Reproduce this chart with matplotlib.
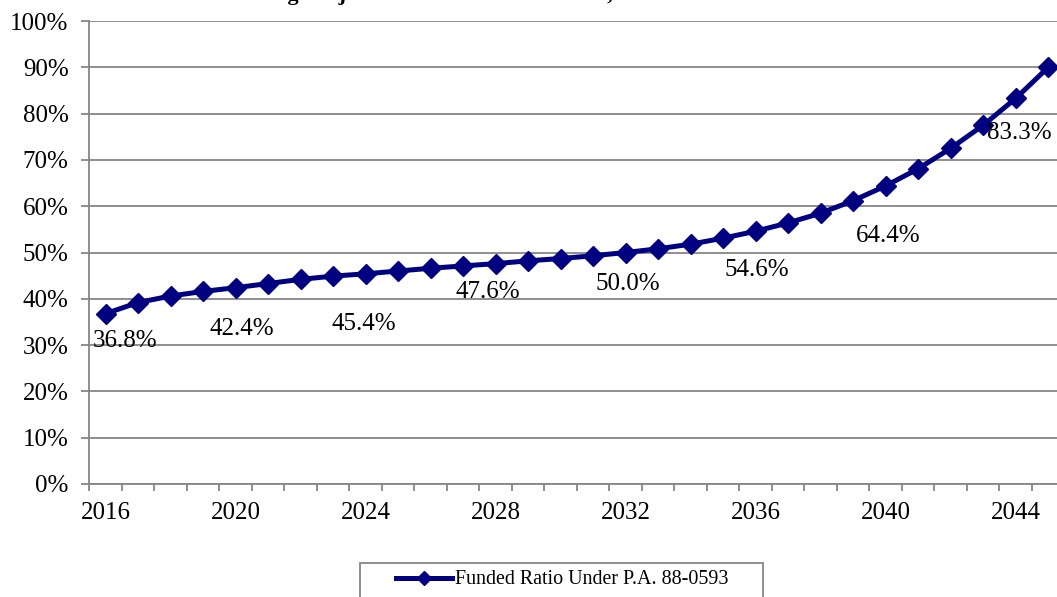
import numpy as np
import matplotlib
matplotlib.use("Agg")
import matplotlib.pyplot as plt
from matplotlib.patches import Rectangle

plt.rcParams['font.family'] = ['Liberation Serif', 'DejaVu Serif']

years = list(range(2016, 2046))
funded = [36.8, 39.2, 40.6, 41.6, 42.4, 43.3, 44.2, 44.9, 45.4, 46.0,
          46.6, 47.1, 47.6, 48.2, 48.7, 49.3, 50.0, 50.8, 51.8, 53.1,
          54.6, 56.4, 58.5, 61.2, 64.4, 68.1, 72.5, 77.5, 83.3, 90.0]
label_years = [2016, 2020, 2024, 2028, 2032, 2036, 2040, 2044]
tick_years = [2016, 2020, 2024, 2028, 2032, 2036, 2040, 2044]
y_ticks = list(range(0, 101, 10))
series_name = 'Funded Ratio Under P.A. 88-0593'
title = 'Funding Projections Under Current Law, FY 2016 - FY 2045'

# label offsets in pixels (dx, dy below point)
label_off = [(19, 27), (6, 41), (-2, 50), (-8, 28), (2, 31), (1, 39), (2, 50), (4, 35)]

navy = '#000080'
grey = '#868686'

fig = plt.figure(figsize=(10.57, 5.97), dpi=100)
W, H = 1057, 597
ax = fig.add_axes([89.4 / W, 1 - 484 / H, (1064.5 - 89.4) / W, (484 - 21) / H])

x = np.arange(len(years))
ax.plot(x, funded, color=navy, lw=3.6, marker='D', markersize=10,
        markeredgecolor=navy, markerfacecolor=navy, label=series_name,
        clip_on=False, zorder=3)

ax.set_xlim(-0.5, len(years) - 0.5)
ax.set_ylim(0, 100)

ax.set_yticks(y_ticks)
ax.set_yticklabels([f'{v}%' for v in y_ticks], fontsize=18)
ax.yaxis.grid(True, color=grey, lw=1.3)
ax.set_axisbelow(True)

ax.set_xticks([years.index(y) for y in tick_years])
ax.set_xticklabels([str(y) for y in tick_years], fontsize=18)
ax.set_xticks(np.arange(-0.5, len(years)), minor=True)
ax.tick_params(axis='x', which='major', length=0, pad=13)
ax.tick_params(axis='x', which='minor', length=5, color=grey, width=1.3)
ax.tick_params(axis='y', length=6, color=grey, width=1.3, pad=9)

for s in ['top', 'right']:
    ax.spines[s].set_visible(False)
for s in ['left', 'bottom']:
    ax.spines[s].set_color(grey)
    ax.spines[s].set_linewidth(1.3)

for yr, (dx, dy) in zip(label_years, label_off):
    i = years.index(yr)
    ax.annotate(f'{funded[i]:.1f}%', (i, funded[i]), xytext=(dx * 0.72, -dy * 0.72),
                textcoords='offset points', ha='center', va='center', fontsize=18)

# legend box drawn by hand, Excel pads it wide
fig.patches.append(Rectangle((360 / W, -0.02), (763 - 360) / W, 0.02 + (597 - 563) / H,
                             transform=fig.transFigure, fill=False,
                             edgecolor=grey, lw=1.3))
leg = ax.legend(loc='center left', bbox_to_anchor=(396 / W, 1 - 580 / H),
                bbox_transform=fig.transFigure, fontsize=14.4, frameon=False,
                handlelength=2.8, borderpad=0, borderaxespad=0,
                handletextpad=0.15, markerscale=0.75)

fig.text(218 / W, 1.0, title, ha='left', va='baseline', fontsize=16, fontweight='bold')

fig.savefig('out.png', dpi=100)
